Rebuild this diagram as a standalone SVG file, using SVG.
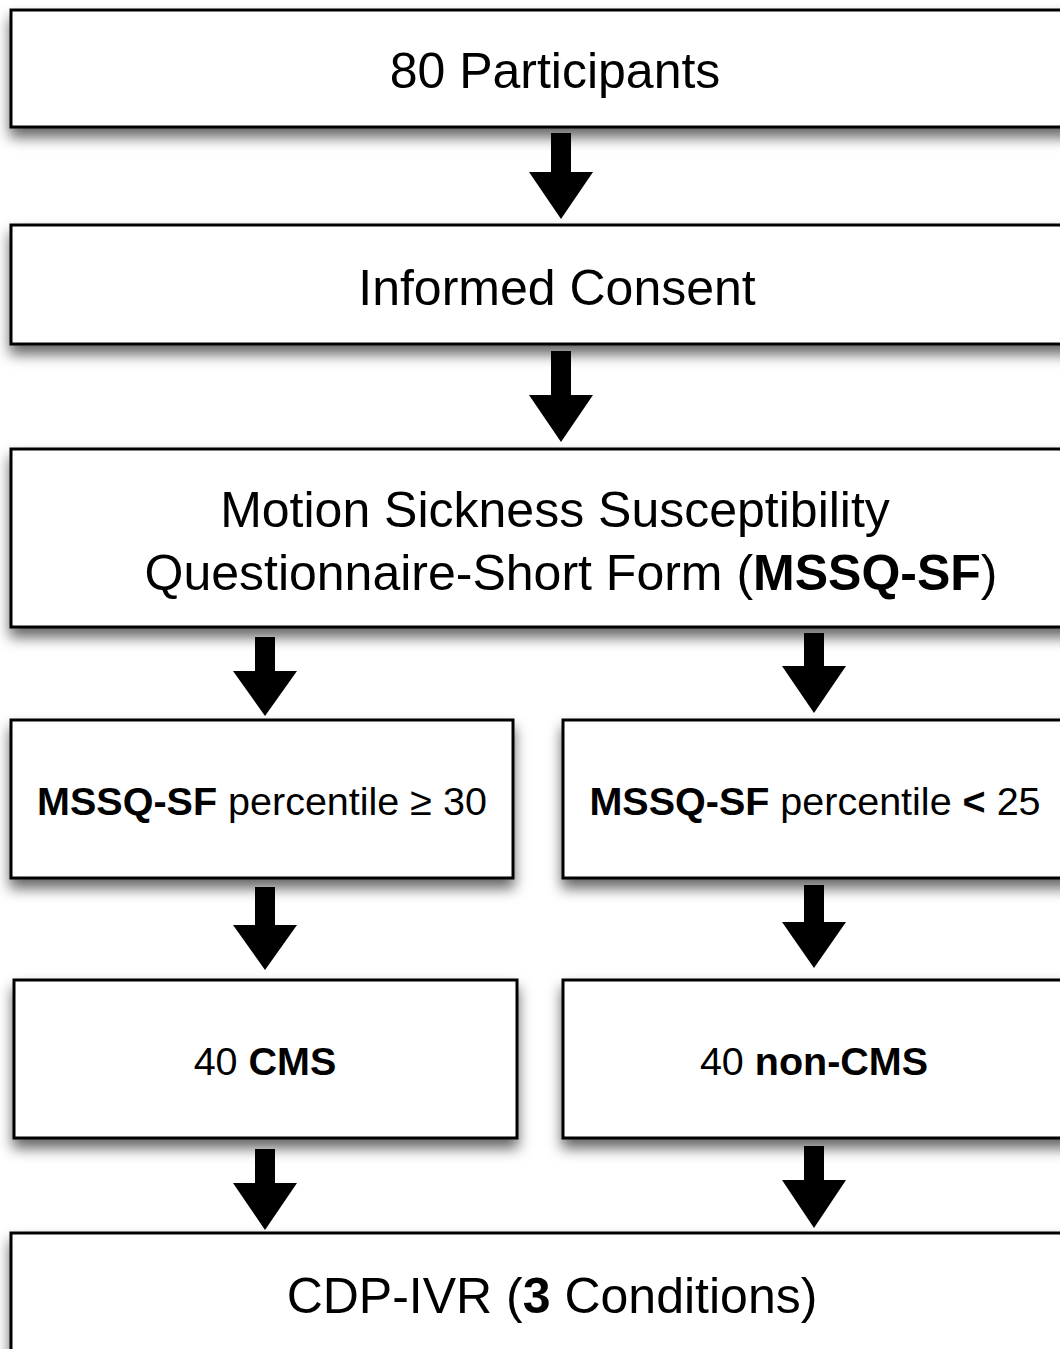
<svg xmlns="http://www.w3.org/2000/svg" width="1060" height="1349" viewBox="0 0 1060 1349">
<defs>
<filter id="sh" x="-5%" y="-20%" width="110%" height="150%">
<feDropShadow dx="0" dy="9" stdDeviation="7" flood-color="#000" flood-opacity="0.6"/>
</filter>
<style>
.box{fill:#fff;stroke:#000;stroke-width:3;filter:url(#sh)}
.t{font-family:"Liberation Sans",Arial,sans-serif;fill:#000;text-anchor:middle}
.b{font-weight:bold}
.arr{fill:#000}
</style>
</defs>
<rect width="1060" height="1349" fill="#fff"/>
<g id="n1"><rect class="box" x="11" y="10" width="1070" height="117"/><text class="t" x="555" y="88" font-size="50">80 Participants</text></g>
<g id="n2"><rect class="box" x="11" y="225" width="1070" height="119"/><text class="t" x="557" y="305" font-size="50">Informed Consent</text></g>
<g id="n3"><rect class="box" x="11" y="449" width="1070" height="178"/><text class="t" x="555" y="527" font-size="50">Motion Sickness Susceptibility</text><text class="t" x="571" y="590" font-size="50">Questionnaire-Short Form (<tspan class="b">MSSQ-SF</tspan>)</text></g>
<g id="n4"><rect class="box" x="11" y="720" width="502" height="158"/><text class="t" x="262" y="815" font-size="39.5"><tspan class="b">MSSQ-SF</tspan> percentile ≥ 30</text></g>
<g id="n5"><rect class="box" x="563" y="720" width="520" height="158"/><text class="t" x="815" y="815" font-size="39.5"><tspan class="b">MSSQ-SF</tspan> percentile <tspan class="b">&lt;</tspan> 25</text></g>
<g id="n6"><rect class="box" x="14" y="980" width="503" height="158"/><text class="t" x="265" y="1075" font-size="39.5">40 <tspan class="b">CMS</tspan></text></g>
<g id="n7"><rect class="box" x="563" y="980" width="520" height="158"/><text class="t" x="814" y="1075" font-size="39.5">40 <tspan class="b">non-CMS</tspan></text></g>
<g id="n8"><rect class="box" x="11" y="1233" width="1070" height="200"/><text class="t" x="552" y="1313" font-size="50">CDP-IVR (<tspan class="b">3</tspan> Conditions)</text></g>
<g id="connectors">
<path class="arr" d="M551 133H571V172H593L561 219L529 172H551Z"/>
<path class="arr" d="M551 351H571V395H593L561 442L529 395H551Z"/>
<path class="arr" d="M255 637H275V671H297L265 716L233 671H255Z"/>
<path class="arr" d="M804 633H824V666H846L814 713L782 666H804Z"/>
<path class="arr" d="M255 887H275V925H297L265 970L233 925H255Z"/>
<path class="arr" d="M804 885H824V922H846L814 968L782 922H804Z"/>
<path class="arr" d="M255 1149H275V1183H297L265 1230L233 1183H255Z"/>
<path class="arr" d="M804 1146H824V1180H846L814 1228L782 1180H804Z"/>
</g>
</svg>
